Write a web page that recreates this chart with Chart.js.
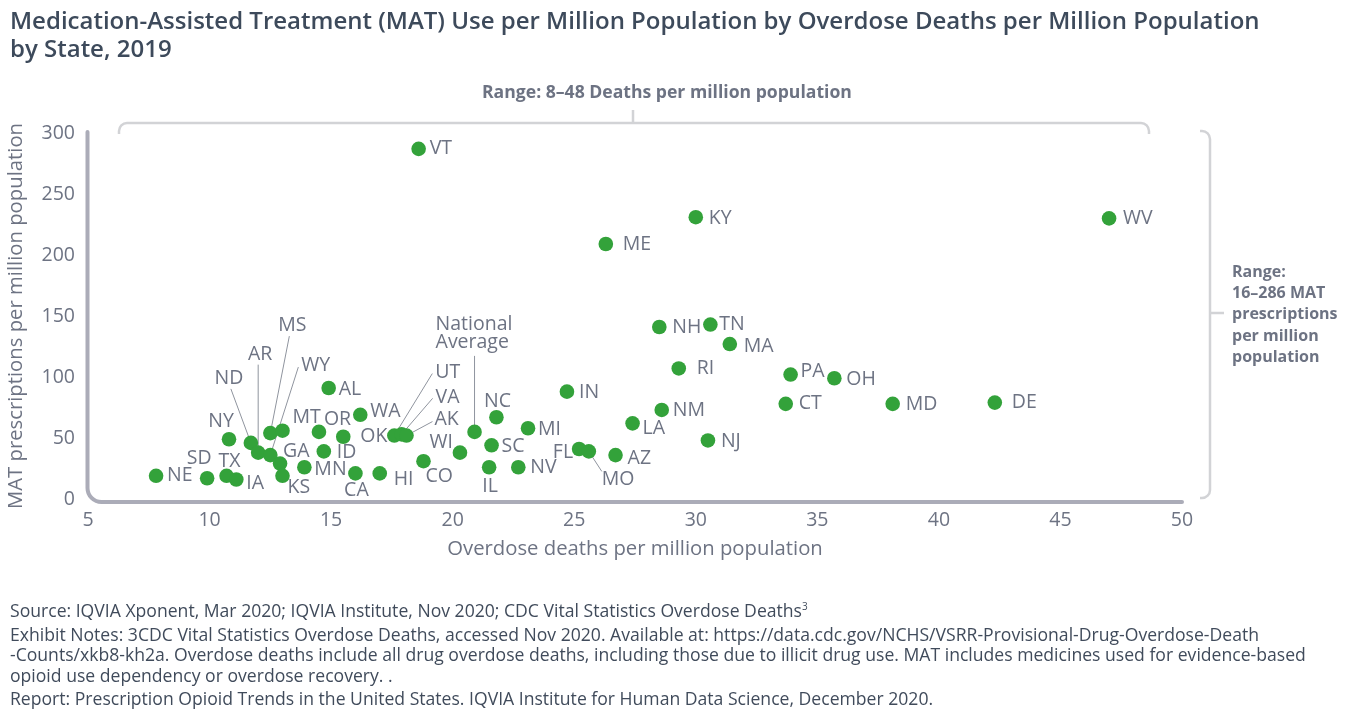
<!DOCTYPE html>
<html><head><meta charset="utf-8">
<script src="https://cdn.jsdelivr.net/npm/chart.js@4/dist/chart.umd.min.js"></script>
<style>
html,body{margin:0;padding:0;background:#fff;}
body{width:1352px;height:719px;position:relative;overflow:hidden;font-family:"Open Sans",sans-serif;}
#wrap{position:absolute;left:0;top:0;width:1352px;height:719px;}
.t{position:absolute;white-space:nowrap;}
#title{left:10px;top:6px;font-size:24px;line-height:28px;font-weight:600;color:#3d4a5b;}
#rtop{left:482px;top:81px;font-size:17.6px;line-height:21px;font-weight:700;color:#6d7383;}
#rright{left:1232px;top:261px;font-size:16px;line-height:21.2px;font-weight:700;color:#6d7383;}
#notes{left:10px;top:600px;font-size:17.6px;line-height:20.5px;color:#404b5b;}
#notes p{margin:0;}
#notes .g{height:3px;}
sup{font-size:10px;vertical-align:7px;line-height:0;}
</style></head>
<body>
<div id="wrap"><canvas id="c" width="1352" height="719"></canvas></div>
<div class="t" id="title">Medication-Assisted Treatment (MAT) Use per Million Population by Overdose Deaths per Million Population<br>by State, 2019</div>
<div class="t" id="rtop">Range: 8–48 Deaths per million population</div>
<div class="t" id="rright">Range:<br>16–286 MAT<br>prescriptions<br>per million<br>population</div>
<div class="t" id="notes">
<p>Source: IQVIA Xponent, Mar 2020; IQVIA Institute, Nov 2020; CDC Vital Statistics Overdose Deaths<sup>3</sup></p>
<div class="g"></div>
<p>Exhibit Notes: 3CDC Vital Statistics Overdose Deaths, accessed Nov 2020. Available at: https://data.cdc.gov/NCHS/VSRR-Provisional-Drug-Overdose-Death<br>-Counts/xkb8-kh2a. Overdose deaths include all drug overdose deaths, including those due to illicit drug use. MAT includes medicines used for evidence-based<br>opioid use dependency or overdose recovery. .</p>
<div class="g"></div>
<p>Report: Prescription Opioid Trends in the United States. IQVIA Institute for Human Data Science, December 2020.</p>
</div>
<script>
// ---- Data ----
const states = ["NE","SD","TX","IA","NY","ND","AR","MS","WY","MT","GA","KS","MN","OR","ID","OK","WA","AL","CA","HI","UT","VA","AK","CO","WI","National Average","NC","SC","IL","NV","MI","IN","FL","MO","ME","AZ","LA","NH","NM","RI","KY","NJ","TN","MA","CT","PA","OH","MD","DE","WV","VT"];
const overdoseDeaths = [7.8,9.9,10.7,11.1,10.8,11.7,12.0,12.5,12.5,13.0,12.9,13.0,13.9,14.5,14.7,15.5,16.2,14.9,16.0,17.0,17.6,17.9,18.1,18.8,20.3,20.9,21.8,21.6,21.5,22.7,23.1,24.7,25.2,25.6,26.3,26.7,27.4,28.5,28.6,29.3,30.0,30.5,30.6,31.4,33.7,33.9,35.7,38.1,42.3,47.0,18.6];
const matRx = [19,17,19,16,49,46,38,54,36,56,29,19,26,55,39,51,69,91,21,21,52,53,52,31,38,55,67,44,26,26,58,88,41,39,209,36,62,141,73,107,231,48,143,127,78,102,99,78,79,230,287];
const xTickValues = [5,10,15,20,25,30,35,40,45,50];
const yTickValues = [0,50,100,150,200,250,300];

// ---- Label placement (pixel offsets from each point) ----
const labelLayout = {
  NE:{dx:11,dy:0}, SD:{dx:-8,dy:-20,align:'center'}, TX:{dx:3,dy:-14,align:'center'}, IA:{dx:10,dy:4},
  NY:{dx:-8,dy:-18,align:'center'},
  ND:{dx:-22,dy:-64,align:'center',lead:[-20,-54]},
  AR:{dx:2,dy:-98,align:'center',lead:[0,-88]},
  MS:{dx:22,dy:-108,align:'center',lead:[19,-97]},
  WY:{dx:31,dy:-90,lead:[28,-88]},
  MT:{dx:10,dy:-13}, GA:{dx:3,dy:-12}, KS:{dx:5,dy:12}, MN:{dx:10,dy:2},
  OR:{dx:5,dy:-12}, ID:{dx:13,dy:1}, OK:{dx:17,dy:0}, WA:{dx:10,dy:-3}, AL:{dx:10,dy:1},
  CA:{dx:1,dy:17,align:'center'}, HI:{dx:14,dy:6},
  UT:{dx:41,dy:-63,lead:[38,-62]},
  VA:{dx:34,dy:-37,lead:[31,-36]},
  AK:{dx:28,dy:-16,lead:[26,-14]},
  CO:{dx:2,dy:15}, WI:{dx:-7,dy:-10,align:'right'},
  'National Average':{dx:-39,dy:-107,lines:['National','Average'],lead:[0,-76]},
  NC:{dx:1,dy:-16,align:'center'}, SC:{dx:10,dy:1}, IL:{dx:1,dy:19,align:'center'}, NV:{dx:12,dy:0},
  MI:{dx:10,dy:1}, IN:{dx:12,dy:1}, FL:{dx:-6,dy:3,align:'right'},
  MO:{dx:13,dy:28,lead:[13,20]},
  ME:{dx:17,dy:0}, AZ:{dx:12,dy:3}, LA:{dx:10,dy:5}, NH:{dx:13,dy:0}, NM:{dx:11,dy:0}, RI:{dx:18,dy:0},
  KY:{dx:13,dy:1}, NJ:{dx:13,dy:1}, TN:{dx:9,dy:0}, MA:{dx:14,dy:2}, CT:{dx:13,dy:0}, PA:{dx:10,dy:-3},
  OH:{dx:12,dy:1}, MD:{dx:13,dy:1}, DE:{dx:17,dy:0}, WV:{dx:14,dy:0}, VT:{dx:11,dy:0}
};

const GRAY = '#6d7383';

const deco = {
  id:'deco',
  beforeDatasetsDraw(chart){
    const ctx = chart.ctx, xs = chart.scales.x, ys = chart.scales.y;
    ctx.save();
    // L-shaped axis
    ctx.strokeStyle = '#abacb8'; ctx.lineWidth = 4; ctx.lineCap = 'round';
    const L = xs.left - 0.5, B = ys.bottom + 3, T = ys.top - 1, R = xs.right, r = 14;
    ctx.beginPath(); ctx.moveTo(L,T); ctx.lineTo(L,B-r); ctx.arcTo(L,B,L+r,B,r); ctx.lineTo(R,B); ctx.stroke();
    // range brackets
    ctx.strokeStyle = '#d2d3d6'; ctx.lineWidth = 2.5; ctx.lineCap = 'butt';
    ctx.beginPath();
    ctx.moveTo(119,134); ctx.lineTo(119,131); ctx.arcTo(119,123,127,123,8); ctx.lineTo(1141,123);
    ctx.arcTo(1149,123,1149,131,8); ctx.lineTo(1149,134);
    ctx.moveTo(633,123); ctx.lineTo(633,110);
    ctx.moveTo(1200,131); ctx.lineTo(1202,131); ctx.arcTo(1210,131,1210,139,8); ctx.lineTo(1210,490);
    ctx.arcTo(1210,498,1202,498,8); ctx.lineTo(1200,498);
    ctx.moveTo(1210,313); ctx.lineTo(1224,313);
    ctx.stroke();
    // leader lines
    const meta = chart.getDatasetMeta(0);
    ctx.strokeStyle = '#8f949e'; ctx.lineWidth = 1;
    meta.data.forEach((pt,i)=>{
      const lay = labelLayout[states[i]];
      if (lay && lay.lead){
        ctx.beginPath(); ctx.moveTo(pt.x+lay.lead[0], pt.y+lay.lead[1]); ctx.lineTo(pt.x, pt.y); ctx.stroke();
      }
    });
    ctx.restore();
  },
  afterDatasetsDraw(chart){
    const ctx = chart.ctx;
    const meta = chart.getDatasetMeta(0);
    ctx.save();
    ctx.font = '19.5px "Open Sans"'; ctx.fillStyle = GRAY; ctx.textBaseline = 'middle';
    meta.data.forEach((pt,i)=>{
      const name = states[i];
      const lay = labelLayout[name] || {dx:12,dy:0};
      ctx.textAlign = lay.align || 'left';
      const lines = lay.lines || [name];
      lines.forEach((ln,k)=> ctx.fillText(ln, pt.x+lay.dx, pt.y+lay.dy+k*18));
    });
    ctx.restore();
  }
};

new Chart(document.getElementById('c'), {
  type:'scatter',
  data:{ datasets:[{
    label:'States',
    data: states.map((s,i)=>({x:overdoseDeaths[i], y:matRx[i]})),
    backgroundColor:'#33a23a', borderColor:'#33a23a', borderWidth:0,
    pointRadius:7.3, pointHoverRadius:7.3, clip:false
  }]},
  options:{
    responsive:false, animation:false, devicePixelRatio:1,
    layout:{ padding:{ top:133, right:170, bottom:154, left:0 } },
    plugins:{ legend:{display:false}, tooltip:{enabled:false} },
    scales:{
      x:{
        type:'linear', min:5, max:50,
        afterBuildTicks(s){ s.ticks = xTickValues.map(v=>({value:v})); },
        afterFit(s){ s.height = 66; },
        grid:{display:false, drawTicks:false}, border:{display:false},
        ticks:{ padding:10, color:GRAY, font:{family:'"Open Sans"', size:19.5} },
        title:{ display:true, text:'Overdose deaths per million population', color:GRAY, font:{family:'"Open Sans"', size:20.3}, padding:{top:4,bottom:4} }
      },
      y:{
        type:'linear', min:0, max:300,
        afterBuildTicks(s){ s.ticks = yTickValues.map(v=>({value:v})); },
        afterFit(s){ s.width = 88; },
        grid:{display:false, drawTicks:false}, border:{display:false},
        ticks:{ padding:13, color:GRAY, font:{family:'"Open Sans"', size:19.5} },
        title:{ display:true, text:'MAT prescriptions per million population', color:GRAY, font:{family:'"Open Sans"', size:20.3}, padding:{top:4,bottom:4} }
      }
    }
  },
  plugins:[deco]
});
</script>
</body></html>
